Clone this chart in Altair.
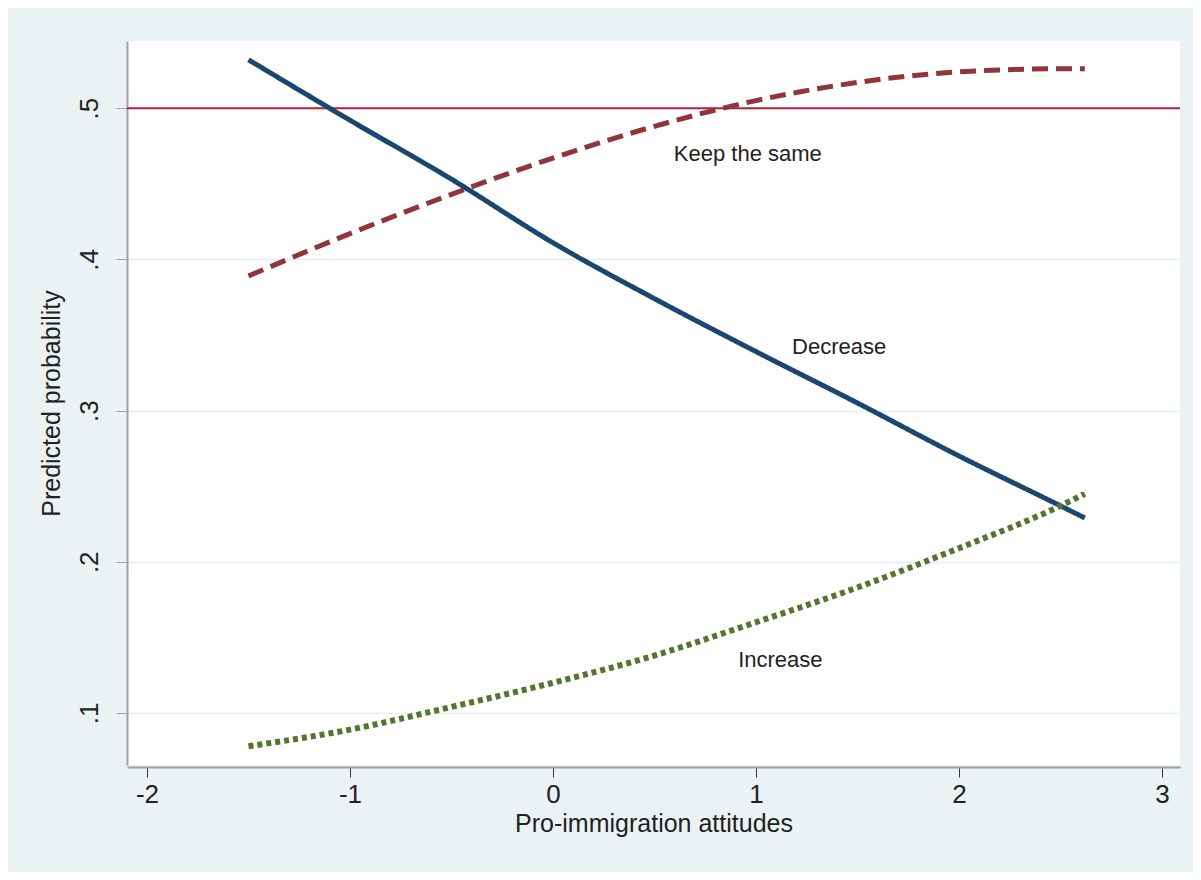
import altair as alt
import pandas as pd

x_vals = [-1.5, -1.0, -0.5, 0.0, 0.5, 1.0, 1.5, 2.0, 2.5, 2.62]
decrease = [0.532, 0.492, 0.453, 0.411, 0.374, 0.339, 0.305, 0.270, 0.237, 0.229]
keep_same = [0.389, 0.417, 0.443, 0.467, 0.488, 0.505, 0.517, 0.524, 0.526, 0.526]
increase = [0.078, 0.089, 0.104, 0.120, 0.138, 0.160, 0.183, 0.209, 0.237, 0.245]

label_text = ["Keep the same", "Decrease", "Increase"]
label_x = [0.96, 1.41, 1.12]
label_y = [0.470, 0.342, 0.135]

x_ticks = [-2, -1, 0, 1, 2, 3]
y_ticks = [0.1, 0.2, 0.3, 0.4, 0.5]
ref_y = [0.5]

FONT = "Liberation Sans"
xscale = alt.Scale(domain=[-2.0985, 3.089], nice=False, zero=False)
yscale = alt.Scale(domain=[0.0656, 0.5444], nice=False, zero=False)

rows = []
for name, vals in [("Decrease", decrease), ("Keep the same", keep_same), ("Increase", increase)]:
    for xv, yv in zip(x_vals, vals):
        rows.append({"x": xv, "y": yv, "series": name})
df = pd.DataFrame(rows)

xaxis = alt.Axis(
    values=x_ticks, grid=False, title="Pro-immigration attitudes",
    labelExpr="'' + datum.value",
    labelFontSize=26, titleFontSize=25, labelFont=FONT, titleFont=FONT,
    titleFontWeight="normal",
    labelColor="#222222", titleColor="#222222",
    domainColor="#a0a0a0", domainWidth=2, tickColor="#333333", tickSize=10,
    labelPadding=4, titlePadding=4, offset=2,
)
yaxis = alt.Axis(
    values=y_ticks, grid=True, gridColor="#e6eef0", gridWidth=1.5,
    title="Predicted probability", labelAngle=270,
    labelAlign="center", labelBaseline="bottom",
    labelExpr="replace(format(datum.value, '.1f'), '0.', '.')",
    labelFontSize=26, titleFontSize=25, labelFont=FONT, titleFont=FONT,
    titleFontWeight="normal",
    labelColor="#222222", titleColor="#222222",
    domainColor="#a0a0a0", domainWidth=2, tickColor="#a0a0a0", tickSize=11,
    labelPadding=14, titlePadding=12,
)

base = alt.Chart(df)

def series_line(name, color, dash, width):
    return base.transform_filter(alt.datum.series == name).mark_line(
        color=color, strokeWidth=width, strokeDash=dash, interpolate="monotone", strokeCap="butt"
    ).encode(
        x=alt.X("x:Q", scale=xscale, axis=xaxis),
        y=alt.Y("y:Q", scale=yscale, axis=yaxis),
    )

ref = alt.Chart(pd.DataFrame({"y": ref_y})).mark_rule(color="#b5213a", strokeWidth=2).encode(
    y=alt.Y("y:Q", scale=yscale)
)

l_dec = series_line("Decrease", "#1a476f", [1, 0], 5)
l_keep = series_line("Keep the same", "#90353b", [16, 8], 5)
l_inc = series_line("Increase", "#55752f", [5, 4], 6)

labels = alt.Chart(pd.DataFrame({"t": label_text, "x": label_x, "y": label_y})).mark_text(
    font=FONT, fontSize=22, color="#222222", align="center", baseline="middle"
).encode(
    x=alt.X("x:Q", scale=xscale),
    y=alt.Y("y:Q", scale=yscale),
    text="t:N",
)

chart = alt.layer(ref, l_keep, l_dec, l_inc, labels).properties(
    width=1053, height=724,
    autosize=alt.AutoSizeParams(type="none"),
    padding={"left": 119, "top": 33, "right": 13, "bottom": 107},
    background="#eaf2f3",
).configure_view(fill="white", stroke=None)

chart.save("out.html", embed_options={"renderer": "svg", "actions": False})
